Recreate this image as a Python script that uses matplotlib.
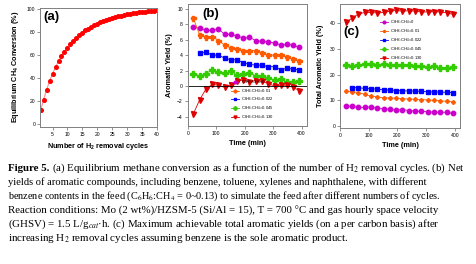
import matplotlib
matplotlib.use("Agg")
from matplotlib import pyplot as plt

# panel (a): equilibrium CH4 conversion vs number of H2 removal cycles
cycles = list(range(1, 41))
conversion = [11.5, 21, 29.5, 37, 43.5, 49.5, 54.5, 59, 63, 66.5,
              69.5, 72.5, 75, 77.5, 79.5, 81.5, 83, 84.5, 86, 87.5,
              88.5, 89.5, 90.5, 91.5, 92.5, 93, 93.8, 94.5, 95, 95.6,
              96, 96.5, 97, 97.3, 97.6, 98, 98.2, 98.5, 98.7, 99]

# panels (b) and (c): time on stream
time = [20, 42, 64, 86, 108, 130, 152, 174, 196, 217, 239, 261, 283, 305, 327, 349, 371, 392]
time_blue = time[1:]

labels = ["C$_6$H$_6$:CH$_4$=0", "C$_6$H$_6$:CH$_4$=0.01", "C$_6$H$_6$:CH$_4$=0.022",
          "C$_6$H$_6$:CH$_4$=0.045", "C$_6$H$_6$:CH$_4$=0.130"]

# net aromatic yield (b)
net_0 = [7.6, 7.5, 7.2, 7.2, 7.4, 6.7, 6.7, 6.5, 6.2, 6.3, 5.9, 5.8, 5.7, 5.6, 5.3, 5.4, 5.3, 5.0]
net_001 = [8.8, 6.6, 6.4, 6.4, 5.9, 5.3, 4.9, 4.8, 4.6, 4.6, 4.6, 4.3, 4.0, 4.0, 4.0, 3.7, 3.5, 3.3]
net_0022 = [4.3, 4.4, 4.0, 4.0, 3.6, 3.4, 3.4, 3.0, 2.8, 2.7, 2.7, 2.5, 2.5, 2.1, 2.3, 2.2, 2.1]
net_0045 = [1.6, 1.3, 1.6, 2.1, 1.8, 1.7, 1.9, 1.4, 1.6, 1.7, 1.3, 1.3, 1.0, 0.8, 0.9, 0.5, 0.5, 0.6]
net_013 = [-3.6, -1.8, -0.4, 0.2, 0.1, -0.2, 0.1, 0.6, 0.8, 0.5, 0.7, 0.6, 0.3, 0.0, 0.1, 0.1, -0.2, -0.6]

# total aromatic yield (c)
tot_0 = [7.8, 7.6, 7.3, 7.2, 7.5, 6.8, 6.7, 6.5, 6.2, 6.4, 6.0, 5.8, 5.7, 5.6, 5.3, 5.4, 5.3, 4.9]
tot_001 = [13.5, 13.4, 13.0, 12.3, 11.6, 11.3, 11.0, 10.9, 10.8, 10.6, 10.5, 10.4, 10.3, 10.1, 10.0, 9.8, 9.6, 9.4]
tot_0022 = [14.9, 14.9, 14.6, 14.5, 14.3, 14.1, 14.0, 13.8, 13.7, 13.6, 13.6, 13.5, 13.3, 13.2, 13.2, 13.1, 13.0]
tot_0045 = [23.7, 23.5, 23.7, 24.2, 24.0, 23.9, 24.1, 23.7, 23.9, 23.8, 23.7, 23.5, 23.2, 23.1, 23.2, 22.7, 22.7, 22.8]
tot_013 = [40.3, 42.0, 43.6, 44.2, 44.2, 44.0, 44.2, 44.7, 45.0, 44.7, 44.9, 44.7, 44.4, 44.4, 44.5, 44.4, 44.1, 43.5]

colors = ["#cc00cc", "#ff5a00", "#0000ff", "#33cc00", "#dd0000"]
markers = ["o", "P", "s", "P", "v"]
msizes = [3.2, 3.6, 3.4, 4.2, 3.6]

plt.rcParams['font.family'] = ['Liberation Sans', 'DejaVu Sans']
plt.rcParams['mathtext.fontset'] = 'custom'
plt.rcParams['mathtext.rm'] = 'Liberation Sans'
plt.rcParams['mathtext.it'] = 'Liberation Sans:italic'
plt.rcParams['mathtext.bf'] = 'Liberation Sans:bold'

fig = plt.figure(figsize=(4.77, 2.64), dpi=100)
W, H = 477., 264.

def add_axes(x0, x1, y0, y1):
    return fig.add_axes([x0 / W, 1 - y1 / H, (x1 - x0) / W, (y1 - y0) / H])

def style(ax):
    for s in ax.spines.values():
        s.set_color("#808080")
        s.set_linewidth(0.7)
    ax.tick_params(direction="out", length=2, width=0.6, color="#808080",
                   labelsize=3.6, pad=1.5)

lab_kw = dict(fontsize=5.2, fontweight="bold")
leg_kw = dict(fontsize=3.0, frameon=False, handlelength=2.0, handletextpad=0.5,
              labelspacing=0.3, markerscale=0.6, borderpad=0, borderaxespad=0)

#================================================================
# (a)
axa = add_axes(40, 157, 7.5, 127)
axa.plot(cycles, conversion, color="#ff8080", lw=0.7, marker="o", ms=2.6,
         mfc="#ff0000", mec="#ff0000")
axa.set_xlim(0.8, 40)
axa.set_ylim(-3, 101.5)
axa.set_xticks(range(5, 41, 5))
axa.set_yticks(range(0, 101, 20))
axa.set_xlabel("Number of H$_\\mathbf{2}$ removal cycles", labelpad=3, **lab_kw)
axa.set_ylabel("Equilibrium CH$_\\mathbf{4}$ Conversion (%)", labelpad=4, **lab_kw)
axa.text(0.03, 0.97, "(a)", transform=axa.transAxes, fontsize=9.5, fontweight="bold",
         va="top", ha="left")
style(axa)

#================================================================
# (b)
axb = add_axes(187.7, 306.7, 4.3, 126)
series_b = [net_0, net_001, net_0022, net_0045, net_013]
for i, ys in enumerate(series_b):
    xs = time_blue if i == 2 else time
    axb.plot(xs, ys, color=colors[i], lw=0.6, marker=markers[i], ms=msizes[i],
             label=labels[i])
axb.axhline(0, color="black", lw=0.6)
axb.set_xlim(0, 418)
axb.set_ylim(-5.2, 10.6)
axb.set_xticks([0, 100, 200, 300, 400])
axb.set_yticks(range(-4, 11, 2))
axb.set_xlabel("Time (min)", labelpad=3, **lab_kw)
axb.set_ylabel("Aromatic Yield (%)", labelpad=3, **lab_kw)
axb.text(0.12, 0.97, "(b)", transform=axb.transAxes, fontsize=9.5, fontweight="bold",
         va="top", ha="left")
axb.legend(loc="lower left", bbox_to_anchor=(0.36, 0.04), **leg_kw)
style(axb)

#================================================================
# (c)
axc = add_axes(340, 460, 4, 128)
series_c = [tot_0, tot_001, tot_0022, tot_0045, tot_013]
for i, ys in enumerate(series_c):
    xs = time_blue if i == 2 else time
    ms = msizes[i] * (0.7 if i == 1 else 1)
    axc.plot(xs, ys, color=colors[i], lw=0.6, marker=markers[i], ms=ms, label=labels[i])
axc.set_xlim(0, 418)
axc.set_ylim(-0.8, 47.5)
axc.set_xticks([0, 100, 200, 300, 400])
axc.set_yticks([0, 10, 20, 30, 40])
axc.set_xlabel("Time (min)", labelpad=3, **lab_kw)
axc.set_ylabel("Total Aromatic Yield (%)", labelpad=4, **lab_kw)
axc.text(0.03, 0.82, "(c)", transform=axc.transAxes, fontsize=9.5, fontweight="bold",
         va="top", ha="left")
axc.legend(loc="upper left", bbox_to_anchor=(0.33, 0.88), **leg_kw)
style(axc)

#================================================================
# caption
cap_kw = dict(family="Liberation Serif", math_fontfamily="stix", va="center", ha="left")
caption = [
    "(a) Equilibrium methane conversion as a function of the number of H$_2$ removal cycles. (b) Net",
    "yields of aromatic compounds, including benzene, toluene, xylenes and naphthalene, with different",
    "benzene contents in the feed (C$_6$H$_6$:CH$_4$ = 0~0.13) to simulate the feed after different numbers of cycles.",
    "Reaction conditions: Mo (2 wt%)/HZSM-5 (Si/Al = 15), T = 700 \u00b0C and gas hourly space velocity",
    "(GHSV) = 1.5 L/g$_{cat}$\u00b7h. (c) Maximum achievable total aromatic yields (on a per carbon basis) after",
    "increasing H$_2$ removal cycles assuming benzene is the sole aromatic product.",
]
line_sizes = [7.8, 7.6, 7.4, 7.8, 7.8, 7.9]
line_y = [168.5, 182.5, 196.5, 210.5, 224.5, 238.5]
t = fig.text(8 / W, 1 - line_y[0] / H, "Figure 5.", fontweight="bold", fontsize=line_sizes[0],
             **cap_kw)
fig.canvas.draw()
bb = t.get_window_extent()
fig.text((bb.x1 + 2.5) / W, 1 - line_y[0] / H, caption[0], fontsize=line_sizes[0], **cap_kw)
for line, y, fs in zip(caption[1:], line_y[1:], line_sizes[1:]):
    fig.text(8 / W, 1 - y / H, line, fontsize=fs, **cap_kw)

plt.savefig("out.png", dpi=100)
plt.close()
